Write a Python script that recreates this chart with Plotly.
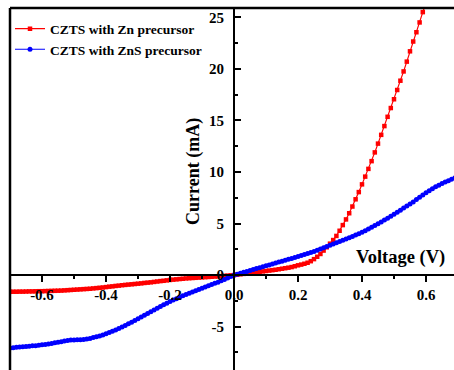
import plotly.graph_objects as go

# Voltage grids (V)
voltage_zn = [round(-0.70 + 0.01 * i, 2) for i in range(131)]   # -0.70 .. 0.60
voltage_zns = [round(-0.70 + 0.01 * i, 2) for i in range(140)]  # -0.70 .. 0.69

# Current (mA), CZTS with Zn precursor
current_zn = [
    -1.62, -1.61, -1.61, -1.60, -1.60, -1.59, -1.58, -1.58, -1.57, -1.56,
    -1.56, -1.55, -1.54, -1.53, -1.52, -1.51, -1.50, -1.48, -1.46, -1.44,
    -1.42, -1.40, -1.38, -1.36, -1.34, -1.32, -1.29, -1.26, -1.23, -1.20,
    -1.16, -1.12, -1.09, -1.05, -1.02, -0.98, -0.95, -0.92, -0.89, -0.86,
    -0.83, -0.80, -0.76, -0.73, -0.70, -0.66, -0.62, -0.58, -0.55, -0.51,
    -0.47, -0.44, -0.41, -0.38, -0.35, -0.32, -0.30, -0.28, -0.26, -0.24,
    -0.22, -0.20, -0.18, -0.16, -0.14, -0.12, -0.10, -0.07, -0.05, -0.02,
    0.00, 0.04, 0.08, 0.12, 0.16, 0.20, 0.24, 0.28, 0.32, 0.36,
    0.40, 0.44, 0.48, 0.52, 0.57, 0.62, 0.67, 0.72, 0.78, 0.86,
    0.95, 1.02, 1.10, 1.20, 1.35, 1.55, 1.78, 2.05, 2.38, 2.70,
    3.05, 3.40, 3.80, 4.30, 4.85, 5.40, 6.00, 6.65, 7.35, 8.05,
    8.80, 9.55, 10.30, 11.05, 11.90, 12.75, 13.60, 14.45, 15.35, 16.20,
    17.05, 17.95, 18.85, 19.75, 20.70, 21.70, 22.65, 23.55, 24.50, 25.50, 26.40,
]

# Current (mA), CZTS with ZnS precursor
current_zns = [
    -7.06, -7.04, -7.00, -6.98, -6.95, -6.93, -6.90, -6.86, -6.84, -6.80,
    -6.76, -6.72, -6.68, -6.62, -6.56, -6.50, -6.45, -6.40, -6.34, -6.30,
    -6.28, -6.27, -6.26, -6.25, -6.20, -6.14, -6.06, -5.98, -5.90, -5.80,
    -5.68, -5.56, -5.44, -5.32, -5.18, -5.04, -4.88, -4.72, -4.56, -4.40,
    -4.22, -4.05, -3.88, -3.72, -3.55, -3.38, -3.21, -3.04, -2.88, -2.72,
    -2.56, -2.42, -2.28, -2.14, -2.01, -1.88, -1.76, -1.64, -1.52, -1.40,
    -1.28, -1.16, -1.04, -0.92, -0.80, -0.68, -0.55, -0.42, -0.28, -0.14,
    0.00, 0.09, 0.18, 0.27, 0.36, 0.45, 0.54, 0.63, 0.72, 0.81,
    0.90, 0.99, 1.08, 1.17, 1.26, 1.35, 1.44, 1.53, 1.62, 1.71,
    1.80, 1.90, 2.00, 2.10, 2.20, 2.30, 2.42, 2.54, 2.66, 2.78,
    2.90, 3.02, 3.14, 3.26, 3.38, 3.50, 3.62, 3.75, 3.88, 4.01,
    4.15, 4.30, 4.46, 4.63, 4.80, 4.98, 5.16, 5.34, 5.52, 5.70,
    5.90, 6.10, 6.30, 6.50, 6.70, 6.90, 7.10, 7.32, 7.54, 7.76,
    7.98, 8.18, 8.38, 8.56, 8.72, 8.88, 9.02, 9.16, 9.30, 9.42,
]

x_tickvals = [-0.6, -0.4, -0.2, 0.0, 0.2, 0.4, 0.6]
x_ticktext = ["<b>-0.6</b>", "<b>-0.4</b>", "<b>-0.2</b>", "<b>0.0</b>",
              "<b>0.2</b>", "<b>0.4</b>", "<b>0.6</b>"]
y_tickvals = [-5, 0, 5, 10, 15, 20, 25]
y_ticktext = ["<b>-5</b>", "<b>0</b>", "<b>5</b>", "<b>10</b>",
              "<b>15</b>", "<b>20</b>", "<b>25</b>"]

x_range = [-0.70, 0.6875]
y_range = [-9.2, 25.9]

FONT = "'Liberation Serif', 'Times New Roman', Times, serif"

fig = go.Figure()
fig.add_trace(go.Scatter(
    x=voltage_zn, y=current_zn, mode="lines+markers",
    name="<b>CZTS with Zn precursor</b>",
    line=dict(color="#ff0000", width=1.2),
    marker=dict(symbol="square", size=4.5, color="#ff0000"),
))
fig.add_trace(go.Scatter(
    x=voltage_zns, y=current_zns, mode="lines+markers",
    name="<b>CZTS with ZnS precursor</b>",
    line=dict(color="#0000ff", width=1.2),
    marker=dict(symbol="circle", size=5, color="#0000ff"),
))

x_pos = (0 - y_range[0]) / (y_range[1] - y_range[0])
y_pos = (0 - x_range[0]) / (x_range[1] - x_range[0])

fig.update_layout(
    width=454, height=370,
    margin=dict(l=10, r=0, t=8, b=0),
    paper_bgcolor="white", plot_bgcolor="white",
    font=dict(family=FONT, color="black", size=14),
    showlegend=True,
    legend=dict(
        x=0.0, y=0.985, xanchor="left", yanchor="top",
        bgcolor="rgba(0,0,0,0)", font=dict(family=FONT, size=13.5, color="black"),
        tracegroupgap=0, itemwidth=30,
    ),
    xaxis=dict(
        range=x_range, anchor="free", position=x_pos,
        showgrid=False, zeroline=False, showline=True, linecolor="black", linewidth=2,
        ticks="outside", ticklen=6, tickwidth=2, tickcolor="black",
        tickvals=x_tickvals, ticktext=x_ticktext,
        tickfont=dict(family=FONT, size=15, color="black"),
        minor=dict(dtick=0.1, tick0=0, ticks="outside", ticklen=3, tickwidth=2, tickcolor="black"),
        automargin=False,
    ),
    yaxis=dict(
        range=y_range, anchor="free", position=y_pos,
        showgrid=False, zeroline=False, showline=True, linecolor="black", linewidth=2,
        ticks="inside", ticklen=6, tickwidth=2, tickcolor="black",
        tickvals=y_tickvals, ticktext=y_ticktext,
        tickfont=dict(family=FONT, size=15, color="black"),
        ticklabelstandoff=6,
        minor=dict(dtick=2.5, tick0=0, ticks="inside", ticklen=3, tickwidth=2, tickcolor="black"),
        automargin=False,
    ),
    shapes=[
        dict(type="line", xref="paper", yref="paper", x0=0, x1=1, y0=1, y1=1,
             line=dict(color="black", width=2.5)),
        dict(type="line", xref="paper", yref="paper", x0=0, x1=0, y0=0, y1=1,
             line=dict(color="black", width=2.5)),
    ],
    annotations=[
        dict(text="<b>Voltage (V)</b>", x=0.52, y=x_pos, xref="x", yref="paper",
             xanchor="center", yanchor="bottom", yshift=5, showarrow=False,
             font=dict(family=FONT, size=18.5, color="black")),
        dict(text="<b>Current (mA)</b>", x=0, y=10, xref="x", yref="y",
             xanchor="center", yanchor="middle", xshift=-40, textangle=-90, showarrow=False,
             font=dict(family=FONT, size=18, color="black")),
    ],
)

fig.write_html("out.html")
